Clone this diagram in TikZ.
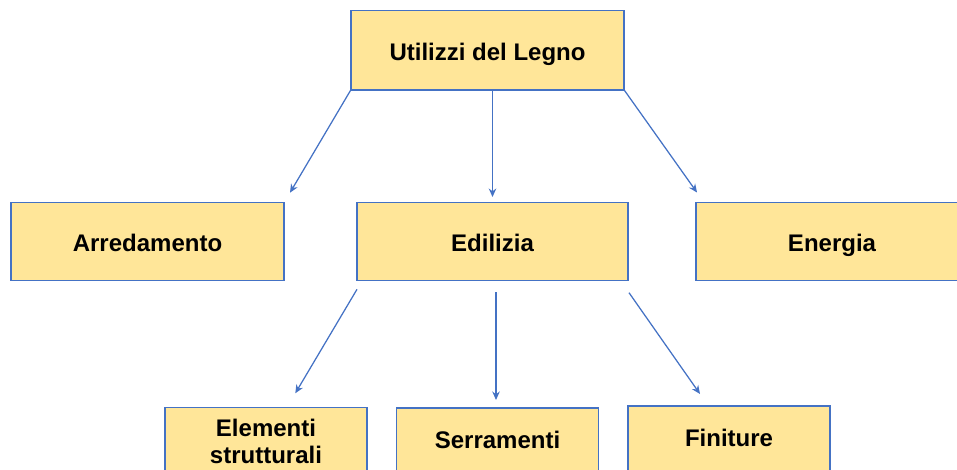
\documentclass[tikz,border=0pt]{standalone}
\usepackage{fontspec}
\setmainfont{Liberation Sans}
\usetikzlibrary{arrows.meta}
\definecolor{boxfill}{HTML}{FFE699}
\definecolor{boxline}{HTML}{4472C4}
\begin{document}
\begin{tikzpicture}[x=1pt,y=-1pt,
  box/.style={draw=boxline,fill=boxfill,line width=1.2pt,inner sep=0pt,
    align=center,font=\fontsize{24}{27}\selectfont\bfseries},
  onebox/.style={box,text height=22pt,text depth=2pt},
  conn/.style={draw=boxline,line width=1.25pt,-{Stealth[length=8.5pt,width=7.5pt]}}]
\useasboundingbox (0,0) rectangle (957,469);
\clip (0,0) rectangle (957,469);
\node[onebox,minimum width=273pt,minimum height=79.5pt] (top) at (487.5,50.25) {Utilizzi del Legno};
\node[onebox,minimum width=273pt,minimum height=78pt] (arr) at (147.5,241.8) {Arredamento};
\node[onebox,minimum width=271pt,minimum height=78pt] (edi) at (492.5,241.8) {Edilizia};
\node[onebox,minimum width=272pt,minimum height=78pt] (ene) at (832,241.8) {Energia};
\node[box,minimum width=202pt,minimum height=67pt] (ele) at (266,441) {Elementi\\strutturali};
\node[box,text height=16.6pt,text depth=2pt,minimum width=202pt,minimum height=66pt] (ser) at (497.5,441) {Serramenti};
\node[box,text height=15.4pt,text depth=2pt,minimum width=202pt,minimum height=68pt] (fin) at (729,440) {Finiture};
\coordinate (t1) at (290,192.7);
\coordinate (t2) at (492.5,197);
\coordinate (t3) at (697,192.5);
\coordinate (s4) at (357,289.3);
\coordinate (t4) at (295.3,393.3);
\coordinate (s5) at (496,292);
\coordinate (t5) at (496,400);
\coordinate (s6) at (629,292.7);
\coordinate (t6) at (700,394);
\draw[conn] (top.south west) -- (t1);
\draw[conn] (edi.north |- top.south) -- (t2);
\draw[conn] (top.south east) -- (t3);
\draw[conn] (s4) -- (t4);
\draw[conn] (s5) -- (t5);
\draw[conn] (s6) -- (t6);
\end{tikzpicture}
\end{document}
